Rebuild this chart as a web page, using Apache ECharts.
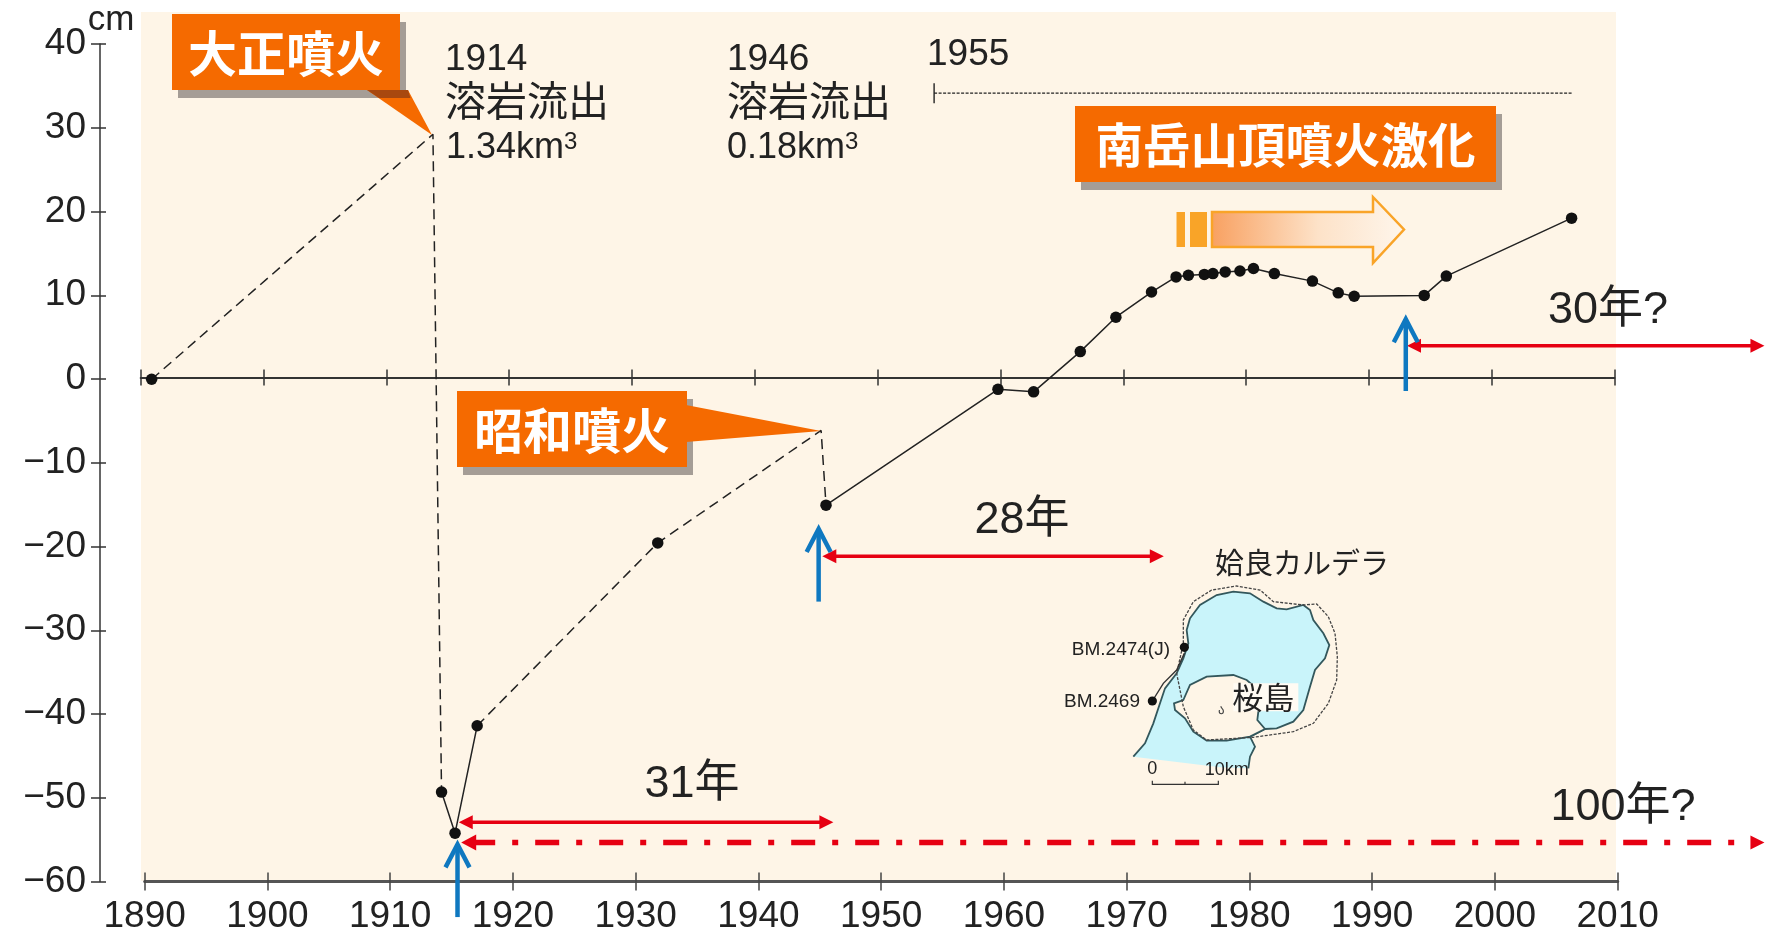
<!DOCTYPE html>
<html><head><meta charset="utf-8">
<style>html,body{margin:0;padding:0;background:#fff}#c{width:1767px;height:931px}</style>
<script src="https://cdn.jsdelivr.net/npm/echarts@6/dist/echarts.min.js"></script>
</head><body><div id="c"></div>
<script>
// ---- data (year, cm) ----
const yearMin = 1890, yearMax = 2010, yearStep = 10;
const cmMin = -60, cmMax = 40, cmStep = 10;
const dashedBefore1914 = [[1890.9,-0.2],[1913.8,29.0],[1914.5,-49.4]];
const dashedBefore1946 = [[1917.4,-41.5],[1932.1,-19.7],[1945.4,-6.3],[1945.8,-15.2]];
const solidAfter1914 = [[1914.5,-49.4],[1915.6,-54.3],[1917.4,-41.5]];
const solidAfter1946 = [[1945.8,-15.2],[1959.8,-1.4],[1962.7,-1.7],[1966.5,3.1],[1969.4,7.2],[1972.3,10.2],[1974.3,12.0],[1975.3,12.2],[1976.6,12.3],[1977.3,12.4],[1978.3,12.6],[1979.5,12.7],[1980.6,13.0],[1982.3,12.4],[1985.4,11.5],[1987.5,10.1],[1988.8,9.7],[1994.5,9.8],[1996.3,12.1],[2006.5,19.0]];
const observedPoints = [[1890.9,-0.2],[1914.5,-49.4],[1915.6,-54.3],[1917.4,-41.5],[1932.1,-19.7]].concat(solidAfter1946);
// interval arrows: [fromYear, toYear, cm]
const redArrows = [[1915.9,1946.4,-53.0],[1945.5,1973.3,-21.3],[1993.1,2022.2,3.8]];
const redDashArrows = [[1916.1,2022.2,-55.4]];
// eruption pointers: [year, tailCm, tipCm]
const blueArrows = [[1915.8,-64.3,-55.4],[1945.2,-26.7,-17.8],[1993.0,-1.6,7.2]];
const activityPeriod = [1954.6,2006.5,33.9];

const FONT = '"Liberation Sans","Noto Sans CJK JP",sans-serif';
const JP = '"Noto Sans CJK JP","Liberation Sans",sans-serif';
const ORANGE = '#f56a00', SHADOW = '#a59d96', BG = '#fef5e7', RED = '#e60012', BLUE = '#0f78c0';

// ---- inset map outline (in crop units) ----
const mapWater = [[340,680],[375,640],[400,580],[420,520],[435,475],[470,430],[490,385],[505,340],[500,300],[510,265],[540,225],[590,195],[640,185],[690,190],[730,215],[770,235],[800,238],[850,225],[870,240],[880,270],[910,310],[928,345],[915,385],[885,420],[870,470],[850,540],[820,575],[770,595],[735,597],[690,620],[705,650],[690,680],[685,715],[600,712],[520,702],[440,692]];
const mapNorthShore = [[340,680],[375,640],[400,580],[420,520],[435,475],[470,430],[490,385],[505,340],[500,300],[510,265],[540,225],[590,195],[640,185],[690,190],[730,215],[770,235],[800,238],[850,225],[870,240],[880,270],[910,310],[928,345],[915,385],[885,420],[870,470],[850,540],[820,575],[770,595],[735,597],[690,620],[705,650],[690,680],[685,715]];
const mapIsland = [[490,510],[510,465],[560,440],[640,435],[680,450],[715,480],[715,545],[712,570],[735,597],[690,620],[620,632],[560,632],[520,605],[495,565],[465,540],[462,520]];
const mapCaldera = [[490,340],[490,270],[520,215],[575,180],[650,168],[720,180],[760,215],[850,225],[890,222],[925,260],[945,310],[952,380],[950,450],[925,520],[880,580],[820,605],[700,622],[560,630],[520,600],[490,530],[470,430],[490,340]];
const mapRoad = [[397,513],[430,460],[470,420],[493,370]];
const mp = p => [1020 + p[0]/3, 530 + p[1]/3];
const mpts = a => a.map(mp);

function txt(x,y,text,size,opt){
  return {type:'text',z:60,style:Object.assign({x:x,y:y,text:text,fontSize:size,fontFamily:FONT,fill:'#222',align:'center',verticalAlign:'middle'},opt||{})};
}
function callout(x,y,w,h,tail,tailDark,label,size){
  const els=[
    {type:'rect',z:40,shape:{x:x+6,y:y+8,width:w,height:h},style:{fill:SHADOW}}
  ];
  if(tail.length) els.push({type:'polygon',z:41,shape:{points:tail},style:{fill:ORANGE}});
  if(tailDark) els.push({type:'polygon',z:42,shape:{points:tailDark},style:{fill:'#a8480f'}});
  els.push({type:'rect',z:43,shape:{x:x,y:y,width:w,height:h},style:{fill:ORANGE}});
  els.push({type:'text',z:44,style:{x:x+w/2,y:y+h/2+1,text:label,fontSize:size,fontWeight:'bold',fontFamily:JP,fill:'#fff',align:'center',verticalAlign:'middle'}});
  return els;
}
const sup = (t)=>({text:'{a|'+t+'}{s|3}',rich:{a:{fontSize:36,fontFamily:FONT,fill:'#222'},s:{fontSize:24,fontFamily:FONT,fill:'#222',verticalAlign:'top',lineHeight:30}}});

const graphics = [
  {type:'rect',z:-1,shape:{x:141,y:12,width:1475,height:869},style:{fill:BG}},
  txt(111,20,'cm',35),
  txt(445,60,'1914',37,{align:'left'}),
  txt(445,100,'溶岩流出',41,{align:'left',fontFamily:JP}),
  txt(446,148,'',36,Object.assign({align:'left'},sup('1.34km'))),
  txt(727,60,'1946',37,{align:'left'}),
  txt(727,100,'溶岩流出',41,{align:'left',fontFamily:JP}),
  txt(727,148,'',36,Object.assign({align:'left'},sup('0.18km'))),
  txt(927,55,'1955',37,{align:'left'}),
  txt(692,785,'31年',45),
  txt(1022,521,'28年',45),
  txt(1608,311,'30年?',45),
  txt(1623,808,'100年?',45),
  txt(1302,563,'姶良カルデラ',29,{fontFamily:JP}),
  // orange progress arrow
  {type:'rect',z:30,shape:{x:1176.5,y:212,width:8.5,height:35},style:{fill:'#f9a428'}},
  {type:'rect',z:30,shape:{x:1190,y:212,width:17,height:35},style:{fill:'#f9a428'}},
  {type:'polygon',z:30,shape:{points:[[1212,212],[1373,212],[1373,197],[1404,229.5],[1373,263],[1373,247],[1212,247]]},
    style:{stroke:'#f9a428',lineWidth:2.5,fill:{type:'linear',x:0,y:0,x2:1,y2:0,colorStops:[{offset:0,color:'#f8a060'},{offset:0.55,color:'#fde2c8'},{offset:1,color:'#fef6ec'}]}}},
  // inset map
  {type:'polygon',z:20,shape:{points:mpts(mapWater)},style:{fill:'#c9f4fa'}},
  {type:'polyline',z:21,shape:{points:mpts(mapNorthShore)},style:{fill:'none',stroke:'#33575c',lineWidth:1.8}},
  {type:'polygon',z:21,shape:{points:mpts(mapIsland)},style:{fill:BG,stroke:'#33575c',lineWidth:1.8}},
  {type:'polyline',z:22,shape:{points:mpts(mapCaldera)},style:{fill:'none',stroke:'#444',lineWidth:1.3,lineDash:[3,1.5]}},
  {type:'polyline',z:22,shape:{points:mpts(mapRoad)},style:{fill:'none',stroke:'#333',lineWidth:1.4}},
  {type:'rect',z:23,shape:{x:1020+640/3,y:530+460/3,width:65,height:28},style:{fill:'#fffbf3'}},
  txt(1020+730/3,530+503/3,'桜島',31,{fontFamily:JP}),
  {type:'circle',z:24,shape:{cx:1020+493/3,cy:530+352/3,r:4.6},style:{fill:'#111'}},
  {type:'circle',z:24,shape:{cx:1020+397/3,cy:530+513/3,r:4.6},style:{fill:'#111'}},
  txt(1020+450/3,530+358/3,'BM.2474(J)',19,{align:'right'}),
  txt(1020+360/3,530+515/3,'BM.2469',19,{align:'right'}),
  txt(1020+397/3,530+718/3,'0',18),
  txt(1020+620/3,530+720/3,'10km',18),
  {type:'polyline',z:24,shape:{points:mpts([[397,752],[397,763],[595,763],[595,752]])},style:{fill:'none',stroke:'#333',lineWidth:1.2}},
  {type:'polyline',z:24,shape:{points:mpts([[495,755],[495,763]])},style:{fill:'none',stroke:'#333',lineWidth:1.2}},
  {type:'text',z:24,style:{x:1020+604/3,y:530+538/3,text:'ა',fontSize:13,fontFamily:JP,fill:'#444',align:'center',verticalAlign:'middle'}}
].concat(
  callout(172,14,228,76,[[367,90],[408,90],[432,135]],[[367,90],[408,90],[410.5,98],[379,98]],'大正噴火',49),
  callout(457,391,230,76,[[686,405],[821,431],[686,442]],null,'昭和噴火',49),
  callout(1075,106,421,76,[],null,'南岳山頂噴火激化',47.5)
);

// arrows drawn from data through the axis scale
function head(api,p,dir,w,l,color){
  return {type:'polygon',shape:{points:[[p[0],p[1]],[p[0]+dir*l,p[1]-w],[p[0]+dir*l,p[1]+w]]},style:{fill:color}};
}
function renderRed(params,api){
  const a=api.coord([api.value(0),api.value(2)]), b=api.coord([api.value(1),api.value(2)]);
  return {type:'group',children:[
    {type:'line',shape:{x1:a[0]+10,y1:a[1],x2:b[0]-10,y2:b[1]},style:{stroke:RED,lineWidth:3.4}},
    head(api,a,1,7,14,RED),head(api,b,-1,7,14,RED)]};
}
function renderRedDash(params,api){
  const a=api.coord([api.value(0),api.value(2)]), b=api.coord([api.value(1),api.value(2)]);
  return {type:'group',children:[
    {type:'line',shape:{x1:a[0]+10,y1:a[1],x2:b[0]-10,y2:b[1]},style:{stroke:RED,lineWidth:5.5,lineDash:[24,17,6,17]}},
    head(api,a,1,8,15,RED),head(api,b,-1,7,14,RED)]};
}
function renderBlue(params,api){
  const t=api.coord([api.value(0),api.value(1)]), p=api.coord([api.value(0),api.value(2)]);
  return {type:'group',children:[
    {type:'line',shape:{x1:t[0],y1:t[1],x2:p[0],y2:p[1]+2},style:{stroke:BLUE,lineWidth:4.5}},
    {type:'polyline',shape:{points:[[p[0]-12,p[1]+25],[p[0],p[1]+2],[p[0]+12,p[1]+25]]},style:{fill:'none',stroke:BLUE,lineWidth:4.5}}]};
}
function renderPeriod(params,api){
  const a=api.coord([api.value(0),api.value(2)]), b=api.coord([api.value(1),api.value(2)]);
  return {type:'group',children:[
    {type:'line',shape:{x1:a[0],y1:a[1],x2:b[0],y2:b[1]},style:{stroke:'#222',lineWidth:1.2,lineDash:[3,1.5]}},
    {type:'line',shape:{x1:a[0],y1:a[1]-10,x2:a[0],y2:a[1]+10},style:{stroke:'#222',lineWidth:1.4}}]};
}
const custom=(data,fn,z)=>({type:'custom',xAxisIndex:2,yAxisIndex:2,data:data,renderItem:fn,z:z,silent:true,clip:false,animation:false});
const lineS=(data,type)=>({type:'line',xAxisIndex:2,yAxisIndex:2,data:data,showSymbol:false,symbol:'none',lineStyle:{color:'#222',width:1.5,type:type==='dashed'?[10,6]:'solid'},z:3,animation:false,silent:true});

const lab={fontSize:37,fontFamily:FONT,color:'#222'};
const xBase={type:'value',min:yearMin,max:yearMax,interval:yearStep,splitLine:{show:false},minorTick:{show:false}};
const yBase={type:'value',min:cmMin,max:cmMax,interval:cmStep,splitLine:{show:false}};

const option={
  animation:false,
  backgroundColor:'#fff',
  graphic:{elements:graphics},
  grid:[
    {left:144.7,width:1473,top:44,height:837.5,outerBoundsMode:'none'},
    {left:140.6,width:1474,top:42,height:839,outerBoundsMode:'none'}
  ],
  xAxis:[
    Object.assign({},xBase,{gridIndex:0,position:'bottom',axisLine:{onZero:false,lineStyle:{color:'#555',width:3}},axisTick:{length:9,lineStyle:{color:'#444',width:1.5}},axisLabel:Object.assign({},lab,{margin:17,formatter:v=>String(v)})}),
    Object.assign({},xBase,{gridIndex:0,position:'bottom',axisLine:{show:false,onZero:false},axisTick:{inside:true,length:9,lineStyle:{color:'#444',width:1.5}},axisLabel:{show:false}}),
    Object.assign({},xBase,{gridIndex:1,position:'bottom',axisLine:{onZero:true,onZeroAxisIndex:2,lineStyle:{color:'#333',width:1.8}},axisTick:{length:8,lineStyle:{color:'#333',width:1.5}},axisLabel:{show:false}}),
    Object.assign({},xBase,{gridIndex:1,position:'bottom',axisLine:{show:false,onZero:true,onZeroAxisIndex:2},axisTick:{inside:true,length:8,lineStyle:{color:'#333',width:1.5}},axisLabel:{show:false}})
  ],
  yAxis:[
    Object.assign({},yBase,{gridIndex:0,position:'left',offset:44.7,axisLine:{show:true,onZero:false,lineStyle:{color:'#333',width:1.5}},axisTick:{show:true,length:9,lineStyle:{color:'#333',width:1.5}},axisLabel:Object.assign({},lab,{margin:14,formatter:v=>String(v).replace('-','\u2212')})}),
    Object.assign({},yBase,{gridIndex:0,position:'left',offset:44.7,axisLine:{show:false,onZero:false},axisTick:{show:true,inside:true,length:6,lineStyle:{color:'#333',width:1.5}},axisLabel:{show:false}}),
    Object.assign({},yBase,{gridIndex:1,show:false})
  ],
  series:[
    lineS(dashedBefore1914,'dashed'),
    lineS(dashedBefore1946,'dashed'),
    lineS(solidAfter1914,'solid'),
    lineS(solidAfter1946,'solid'),
    {type:'scatter',xAxisIndex:2,yAxisIndex:2,data:observedPoints,symbol:'circle',symbolSize:11.5,itemStyle:{color:'#111',opacity:1},z:4,silent:true,animation:false},
    custom(redArrows,renderRed,50),
    custom(redDashArrows,renderRedDash,50),
    custom(blueArrows,renderBlue,51),
    custom([activityPeriod],renderPeriod,5)
  ]
};
const chart=echarts.init(document.getElementById('c'),null,{renderer:'canvas'});
chart.setOption(option);
</script></body></html>
